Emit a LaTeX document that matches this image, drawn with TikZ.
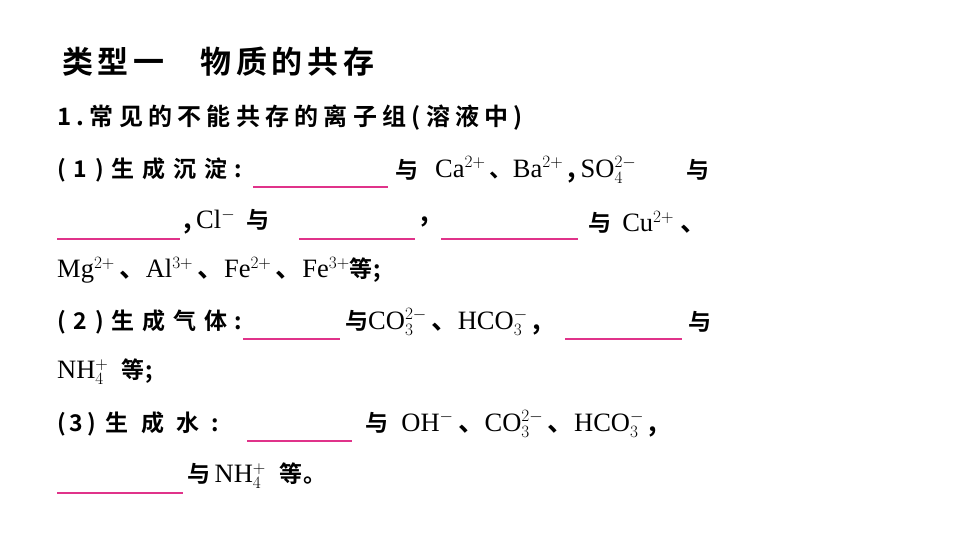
\documentclass[tikz,border=0pt]{standalone}
\usepackage{fontspec}
\setmainfont{Liberation Serif}
\newfontfamily\cjk[LetterSpace=34]{Noto Sans CJK SC Bold}
\newfontfamily\cjkt[LetterSpace=15]{Noto Sans CJK SC Bold}
\newfontfamily\cjkl[LetterSpace=22]{Noto Sans CJK SC Bold}
\newfontfamily\cjkb[LetterSpace=4]{Noto Sans CJK SC Bold}
\definecolor{pinkline}{HTML}{E0338A}
\begin{document}
\begin{tikzpicture}[x=1pt,y=-1pt,
  txt/.style={anchor=west,inner sep=0pt,font=\fontsize{26.5}{28}\selectfont},
  blank/.style={draw=pinkline,color=pinkline,line width=1.2pt}]
\useasboundingbox (0,0) rectangle (960,540);
\node[txt,font=\fontsize{31}{34}\selectfont\cjkt] (t) at (62,62) {类型一\hspace{36pt}物质的共存};
\node[txt,font=\fontsize{24}{26}\selectfont\cjkl] (l1) at (57,118) {1.常见的不能共存的离子组(溶液中)};
% line 2
\node[txt] (a1) at (57,170) {\fontsize{23}{26}\cjk (1)生成沉淀:};
\coordinate (u1a) at (253,187); \coordinate (u1b) at (388,187);
\draw[blank] (u1a) -- (u1b);
\node[txt] (a2) at (395,170) {\fontsize{23}{26}\cjkb 与};
\node[txt] (a3) at (435,170) {Ca$^{2+}$\,{\fontsize{23}{26}\cjkb 、}Ba$^{2+}$\,{\cjkb ,}\,SO$_4^{2-}$};
\node[txt] (a4) at (686,170) {\fontsize{23}{26}\cjkb 与};
% line 3
\coordinate (u2a) at (57,239); \coordinate (u2b) at (180,239);
\draw[blank] (u2a) -- (u2b);
\node[txt] (b1) at (183,222) {{\cjkb ,}\,Cl$^{-}$\ \,{\fontsize{23}{26}\cjkb 与}};
\coordinate (u3a) at (299,239); \coordinate (u3b) at (415,239);
\draw[blank] (u3a) -- (u3b);
\node[txt] (b2) at (420,222) {\cjkb ,};
\coordinate (u4a) at (441,239); \coordinate (u4b) at (578,239);
\draw[blank] (u4a) -- (u4b);
\node[txt] (b3) at (588,222) {{\fontsize{23}{26}\cjkb 与}\ \,Cu$^{2+}$\ {\cjkb 、}};
% line 4
\node[txt] (c1) at (57,270) {Mg$^{2+}$\,{\cjkb 、}Al$^{3+}$\,{\cjkb 、}Fe$^{2+}$\,{\cjkb 、}Fe$^{3+}${\fontsize{23}{26}\cjkb 等;}};
% line 5
\node[txt] (d1) at (57,322) {\fontsize{23}{26}\cjk (2)生成气体:};
\coordinate (u5a) at (243,339); \coordinate (u5b) at (340,339);
\draw[blank] (u5a) -- (u5b);
\node[txt] (d2) at (345,322) {{\fontsize{23}{26}\cjkb 与}CO$_3^{2-}$\,{\cjkb 、}HCO$_3^{-}$\,{\cjkb ,}};
\coordinate (u6a) at (565,339); \coordinate (u6b) at (682,339);
\draw[blank] (u6a) -- (u6b);
\node[txt] (d3) at (688,322) {\fontsize{23}{26}\cjkb 与};
% line 6
\node[txt] (e1) at (57,372) {NH$_4^{+}$\ \ {\fontsize{23}{26}\cjkb 等;}};
% line 7
\node[txt] (f1) at (57,424) {\fontsize{23}{26}\cjkb (\,3\,)\,\ 生\ \ 成\ \ 水\ \ :};
\coordinate (u7a) at (247,441); \coordinate (u7b) at (352,441);
\draw[blank] (u7a) -- (u7b);
\node[txt] (f2) at (365,424) {{\fontsize{23}{26}\cjkb 与}\ \ OH$^{-}$\,{\cjkb 、}CO$_3^{2-}$\,{\cjkb 、}HCO$_3^{-}$\,{\cjkb ,}};
% line 8
\coordinate (u8a) at (57,493); \coordinate (u8b) at (183,493);
\draw[blank] (u8a) -- (u8b);
\node[txt] (g1) at (187,476) {{\fontsize{23}{26}\cjkb 与}\,NH$_4^{+}$\ \ {\fontsize{23}{26}\cjkb 等。}};
\end{tikzpicture}
\end{document}
